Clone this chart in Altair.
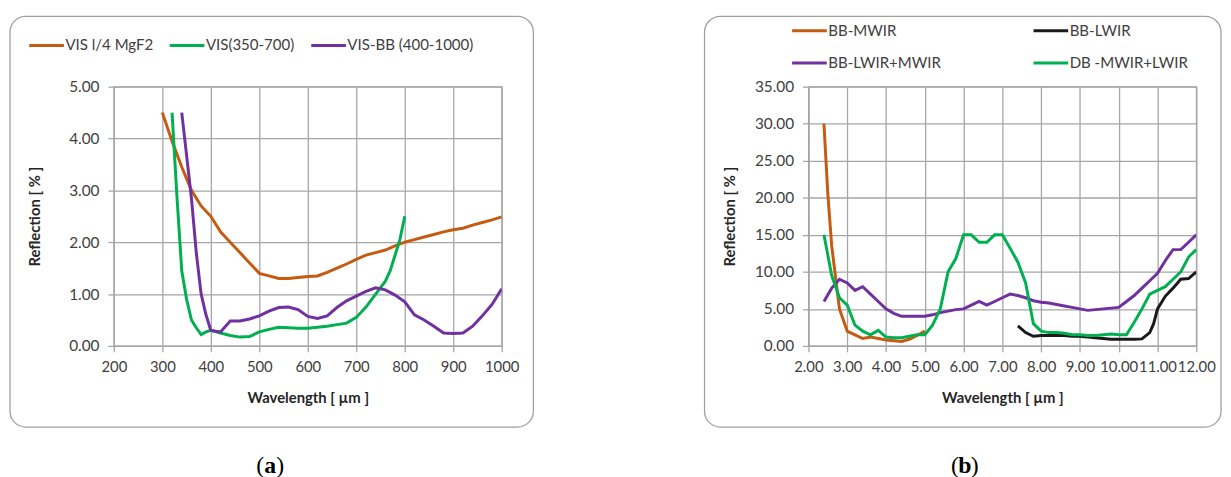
import altair as alt
import pandas as pd

# ---------------- Panel (a) data ----------------
a_names = ["VIS l/4 MgF2", "VIS(350-700)", "VIS-BB (400-1000)"]
a_colors = ["#C55A11", "#00B050", "#7030A0"]

a_wl_mgf2 = [300, 320, 340, 360, 380, 400, 420, 440, 460, 480, 500, 520, 540, 560, 580,
             600, 620, 640, 660, 680, 700, 720, 740, 760, 780, 800, 820, 840, 860, 880,
             900, 920, 940, 960, 980, 1000]
a_mgf2 = [4.50, 3.95, 3.45, 3.00, 2.70, 2.50, 2.20, 2.00, 1.80, 1.60, 1.40, 1.35, 1.30, 1.30,
          1.32, 1.34, 1.35, 1.42, 1.50, 1.58, 1.67, 1.75, 1.80, 1.85, 1.93, 2.00, 2.05, 2.10,
          2.15, 2.20, 2.24, 2.27, 2.33, 2.38, 2.43, 2.49]

a_wl_vis = [320, 330, 340, 350, 360, 370, 380, 390, 400, 420, 440, 460, 480, 500, 520, 540,
            560, 580, 600, 620, 640, 660, 680, 700, 720, 740, 760, 770, 780, 790, 800]
a_vis = [4.50, 2.90, 1.45, 0.90, 0.50, 0.35, 0.22, 0.27, 0.30, 0.25, 0.20, 0.17, 0.18, 0.27,
         0.32, 0.36, 0.35, 0.34, 0.34, 0.36, 0.38, 0.41, 0.44, 0.55, 0.75, 1.00, 1.25, 1.45,
         1.75, 2.05, 2.50]

a_wl_bb = [340, 360, 370, 380, 390, 400, 420, 440, 460, 480, 500, 520, 540, 560, 580, 600,
           620, 640, 660, 680, 700, 720, 740, 760, 780, 800, 820, 840, 860, 880, 900, 920,
           940, 960, 980, 1000]
a_bb = [4.50, 2.85, 1.80, 1.00, 0.60, 0.30, 0.27, 0.48, 0.48, 0.52, 0.58, 0.67, 0.74, 0.75,
        0.70, 0.57, 0.53, 0.58, 0.74, 0.87, 0.96, 1.05, 1.12, 1.08, 0.98, 0.85, 0.60, 0.50,
        0.38, 0.25, 0.24, 0.25, 0.38, 0.58, 0.80, 1.10]

# ---------------- Panel (b) data ----------------
b_names = ["BB-MWIR", "BB-LWIR", "BB-LWIR+MWIR", "DB -MWIR+LWIR"]
b_colors = ["#C55A11", "#1A1A1A", "#7030A0", "#00B050"]

b_wl_mwir = [2.4, 2.5, 2.6, 2.8, 3.0, 3.2, 3.4, 3.6, 3.8, 4.0, 4.2, 4.4, 4.6, 4.8, 5.0]
b_mwir = [30.0, 20.5, 13.5, 5.0, 2.0, 1.5, 1.0, 1.2, 1.0, 0.8, 0.7, 0.6, 0.9, 1.4, 2.0]

b_wl_lwir = [7.4, 7.6, 7.8, 8.0, 8.2, 8.4, 8.6, 8.8, 9.0, 9.2, 9.4, 9.6, 9.8, 10.0, 10.2,
             10.4, 10.6, 10.8, 10.9, 11.0, 11.2, 11.4, 11.6, 11.8, 12.0]
b_lwir = [2.7, 1.8, 1.3, 1.4, 1.4, 1.4, 1.4, 1.3, 1.3, 1.2, 1.1, 1.0, 0.9, 0.9, 0.9,
          0.9, 0.95, 1.8, 3.0, 5.0, 6.7, 7.8, 9.0, 9.1, 10.0]

b_wl_both = [2.4, 2.6, 2.8, 3.0, 3.2, 3.4, 3.6, 3.8, 4.0, 4.2, 4.4, 4.6, 4.8, 5.0, 5.2, 5.4,
             5.6, 5.8, 6.0, 6.2, 6.4, 6.6, 6.8, 7.0, 7.2, 7.4, 7.6, 7.8, 8.0, 8.2, 8.4, 8.6,
             8.8, 9.0, 9.2, 9.4, 9.6, 9.8, 10.0, 10.2, 10.4, 10.6, 10.8, 11.0, 11.2, 11.4,
             11.6, 11.8, 12.0]
b_both = [6.0, 7.8, 9.0, 8.5, 7.5, 8.0, 7.0, 6.0, 5.0, 4.4, 4.0, 4.0, 4.0, 4.0, 4.2, 4.5,
          4.7, 4.9, 5.0, 5.5, 6.0, 5.5, 6.0, 6.5, 7.0, 6.8, 6.5, 6.1, 5.9, 5.8, 5.6, 5.4,
          5.2, 5.0, 4.8, 4.9, 5.0, 5.1, 5.2, 6.0, 6.8, 7.8, 8.8, 9.8, 11.5, 13.0, 13.0,
          14.0, 15.0]

b_wl_db = [2.4, 2.6, 2.8, 3.0, 3.2, 3.4, 3.6, 3.8, 4.0, 4.2, 4.4, 4.6, 4.8, 5.0, 5.2, 5.4,
           5.6, 5.8, 6.0, 6.2, 6.4, 6.6, 6.8, 7.0, 7.2, 7.4, 7.6, 7.8, 8.0, 8.2, 8.4, 8.6,
           8.8, 9.0, 9.2, 9.4, 9.6, 9.8, 10.0, 10.2, 10.4, 10.6, 10.8, 11.0, 11.2, 11.4,
           11.6, 11.8, 12.0]
b_db = [15.0, 9.5, 6.5, 5.5, 2.8, 2.0, 1.5, 2.1, 1.2, 1.1, 1.1, 1.3, 1.5, 1.5, 2.8, 5.0,
        10.0, 11.8, 15.0, 15.0, 14.0, 14.0, 15.0, 15.0, 13.2, 11.3, 8.5, 3.0, 2.0, 1.8,
        1.8, 1.7, 1.5, 1.5, 1.4, 1.4, 1.5, 1.6, 1.5, 1.5, 3.2, 5.0, 7.0, 7.5, 8.0, 9.0,
        10.0, 12.0, 13.0]

a_xticks = [200, 300, 400, 500, 600, 700, 800, 900, 1000]
a_yticks = [0, 1, 2, 3, 4, 5]
b_xticks = [2, 3, 4, 5, 6, 7, 8, 9, 10, 11, 12]
b_yticks = [0, 5, 10, 15, 20, 25, 30, 35]


def frame_df(wls, vals, name):
    return pd.DataFrame({"wl": wls, "refl": vals, "series": name})


df_a = pd.concat([
    frame_df(a_wl_mgf2, a_mgf2, a_names[0]),
    frame_df(a_wl_vis, a_vis, a_names[1]),
    frame_df(a_wl_bb, a_bb, a_names[2]),
], ignore_index=True)

df_b = pd.concat([
    frame_df(b_wl_mwir, b_mwir, b_names[0]),
    frame_df(b_wl_lwir, b_lwir, b_names[1]),
    frame_df(b_wl_both, b_both, b_names[2]),
    frame_df(b_wl_db, b_db, b_names[3]),
], ignore_index=True)

FONT = "Lato"
GRID = "#a6a6a6"
W, H = 392, 262
dummy = pd.DataFrame({"d": [0]})


def panel(df, names, colors, xdom, xticks, ydom, yticks, legend, caption, frame_right):
    frame = alt.Chart(dummy).mark_rect(
        filled=False, stroke="#a0a0a0", strokeWidth=1.3, cornerRadius=16
    ).encode(
        x=alt.value(-105), x2=alt.value(frame_right),
        y=alt.value(-71), y2=alt.value(344),
    )
    lines = alt.Chart(df).mark_line(strokeWidth=3, clip=True).encode(
        x=alt.X("wl:Q", scale=alt.Scale(domain=xdom, nice=False, zero=False),
                axis=alt.Axis(values=xticks, title="Wavelength [ \u00b5m ]",
                              format=".0f" if xdom[1] > 100 else ".2f",
                              labelPadding=8, titleY=52, titleBaseline="middle")),
        y=alt.Y("refl:Q", scale=alt.Scale(domain=ydom, nice=False),
                axis=alt.Axis(values=yticks, format=".2f", title="Reflection [ % ]",
                              labelPadding=9, labelFontSize=15.5, titleX=-80,
                              titleY=H / 2, titleBaseline="middle", titleAngle=-90)),
        color=alt.Color("series:N", scale=alt.Scale(domain=names, range=colors),
                        sort=names, legend=legend),
    )
    cap_l = alt.Chart(dummy).mark_text(font="Liberation Serif", fontSize=24,
                                       align="right", baseline="middle").encode(
        x=alt.value(152), y=alt.value(383), text=alt.value("("))
    cap_m = alt.Chart(dummy).mark_text(font="Liberation Serif", fontSize=24,
                                       fontWeight="bold", align="center",
                                       baseline="middle").encode(
        x=alt.value(158), y=alt.value(383), text=alt.value(caption))
    cap_r = alt.Chart(dummy).mark_text(font="Liberation Serif", fontSize=24,
                                       align="left", baseline="middle").encode(
        x=alt.value(164), y=alt.value(383), text=alt.value(")"))
    return alt.layer(frame, lines, cap_l, cap_m, cap_r).properties(width=W, height=H)


legend_a = alt.Legend(title=None, orient="none", legendX=-87, legendY=-61,
                      direction="horizontal", columns=3, symbolType="stroke",
                      symbolSize=1225, symbolStrokeWidth=3, labelFontSize=15.2,
                      labelOffset=0, columnPadding=10, labelColor="#404040",
                      labelFont=FONT)
legend_b = alt.Legend(title=None, orient="none", legendX=-18, legendY=-76,
                      direction="horizontal", columns=2, symbolType="stroke",
                      symbolSize=1225, symbolStrokeWidth=3, labelFontSize=15.2,
                      labelOffset=0, columnPadding=87, rowPadding=5,
                      labelColor="#404040", labelFont=FONT)

pa = panel(df_a, a_names, a_colors, [200, 1000], a_xticks, [0, 5], a_yticks,
           legend_a, "a", 424)
pb = panel(df_b, b_names, b_colors, [2, 12], b_xticks, [0, 35], b_yticks,
           legend_b, "b", 417)

chart = alt.hconcat(pa, pb, spacing=169).resolve_scale(
    color="independent", x="independent", y="independent"
).resolve_legend(color="independent").properties(
    padding={"left": 0, "top": 0, "right": 0, "bottom": 0}
).configure_view(stroke=GRID, strokeWidth=1.3).configure_axis(
    grid=True, gridColor=GRID, gridWidth=1.3, domainColor=GRID, domainWidth=1.3,
    tickColor=GRID, tickWidth=1.3, tickSize=6, labelFont=FONT, labelFontSize=15,
    labelColor="#404040", labelOverlap=False, labelFlush=False,
    titleFont=FONT, titleFontSize=15, titleFontWeight="bold", titleColor="#262626"
).configure_legend(labelLimit=300)

chart.save("out.html", embed_options={"renderer": "svg", "actions": False})
